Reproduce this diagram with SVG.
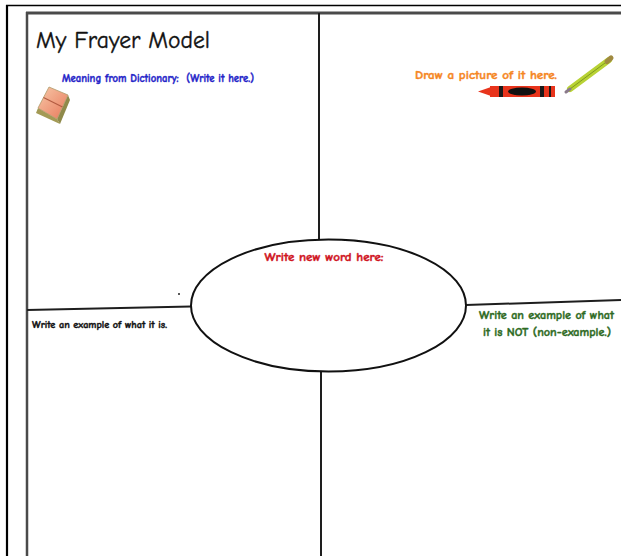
<svg xmlns="http://www.w3.org/2000/svg" width="621" height="556" viewBox="0 0 621 556">
<style>
  .lbl { font-family: "Comic Neue", "Open Sans", "Noto Sans", sans-serif; font-weight: bold; stroke-width: 0.4; white-space: pre; }
  .div { stroke: #1e1e1e; stroke-width: 2; fill: none; }
</style>
<defs>
  <linearGradient id="bookFace" x1="0" y1="0" x2="1" y2="1">
    <stop offset="0" stop-color="#f7c9a9"/>
    <stop offset="1" stop-color="#e8785a"/>
  </linearGradient>
</defs>
<rect width="621" height="556" fill="#ffffff"/>

<g id="frame">
  <line x1="7" y1="5" x2="7" y2="556" stroke="#000" stroke-width="2.2"/>
  <line x1="6" y1="5.5" x2="621" y2="5.5" stroke="#000" stroke-width="1.5"/>
  <line x1="27" y1="12" x2="27" y2="556" stroke="#4a4a4a" stroke-width="2.5"/>
  <line x1="26" y1="13" x2="621" y2="13" stroke="#4a4a4a" stroke-width="3"/>
</g>

<g id="connectors">
  <line class="div" x1="319" y1="13" x2="319" y2="240"/>
  <line class="div" x1="321" y1="371" x2="321" y2="556"/>
  <line class="div" x1="27" y1="310" x2="191" y2="306.5"/>
  <line class="div" x1="466" y1="305" x2="621" y2="300"/>
</g>

<g id="title">
  <text class="lbl" x="36" y="48" font-size="25" fill="#111" stroke="#111" stroke-width="0.3" textLength="174" lengthAdjust="spacingAndGlyphs" style="font-weight:normal">My Frayer Model</text>
</g>

<g id="meaning">
  <text class="lbl" x="62" y="82" font-size="11.5" fill="#2323c8" stroke="#2323c8" textLength="192" lengthAdjust="spacingAndGlyphs">Meaning from Dictionary:  (Write it here.)</text>
  <g id="book-icon">
    <polygon points="38,108 57,119 60,124 36,113" fill="#a39a55"/>
    <polygon points="68,95 70,100 60,124 57,119" fill="#8f8a4a"/>
    <polygon points="49,87 68,95 57,119 38,108" fill="url(#bookFace)" stroke="#b09a6a" stroke-width="0.8"/>
    <line x1="43.5" y1="97.5" x2="62.5" y2="107" stroke="#b35a40" stroke-width="1.2"/>
  </g>
</g>

<g id="picture">
  <text class="lbl" x="415" y="79" font-size="12" fill="#f5861f" stroke="#f5861f" textLength="142" lengthAdjust="spacingAndGlyphs">Draw a picture of it here.</text>
  <g id="crayon-icon">
    <polygon points="478,91.5 491,87 491,96" fill="#e8341c"/>
    <rect x="490" y="86" width="65" height="11" fill="#e8341c"/>
    <rect x="499" y="86" width="4" height="11" fill="#1a1a1a"/>
    <rect x="540" y="86" width="4" height="11" fill="#1a1a1a"/>
    <rect x="549" y="86" width="2" height="11" fill="#1a1a1a"/>
    <ellipse cx="522" cy="91.5" rx="14" ry="4" fill="#111"/>
  </g>
  <g id="pencil-icon">
    <line x1="570" y1="89" x2="609" y2="60" stroke="#b8d235" stroke-width="6" stroke-linecap="round"/>
    <line x1="570" y1="89" x2="609" y2="60" stroke="#7f9a1e" stroke-width="1"/>
    <line x1="566" y1="92" x2="570" y2="89" stroke="#8a7a8a" stroke-width="3" stroke-linecap="round"/>
    <line x1="607" y1="61.5" x2="611" y2="58" stroke="#a08a40" stroke-width="5" stroke-linecap="round"/>
  </g>
</g>

<g id="word">
  <ellipse cx="328.5" cy="305.5" rx="137.5" ry="66" fill="#fff" stroke="#111" stroke-width="2"/>
  <text class="lbl" x="324" y="261" font-size="12" fill="#d0141e" stroke="#d0141e" text-anchor="middle" textLength="119" lengthAdjust="spacingAndGlyphs">Write new word here:</text>
  <circle cx="179" cy="294" r="1" fill="#222"/>
</g>

<g id="example">
  <text class="lbl" x="32" y="328" font-size="9.5" fill="#111" stroke="#111" stroke-width="0.3" textLength="135" lengthAdjust="spacingAndGlyphs">Write an example of what it is.</text>
</g>

<g id="non-example">
  <text class="lbl" x="479" y="319" font-size="12" fill="#2d6a22" stroke="#2d6a22" textLength="135" lengthAdjust="spacingAndGlyphs">Write an example of what</text>
  <text class="lbl" x="483" y="336" font-size="12" fill="#2d6a22" stroke="#2d6a22" textLength="128" lengthAdjust="spacingAndGlyphs">it is NOT (non-example.)</text>
</g>
</svg>
